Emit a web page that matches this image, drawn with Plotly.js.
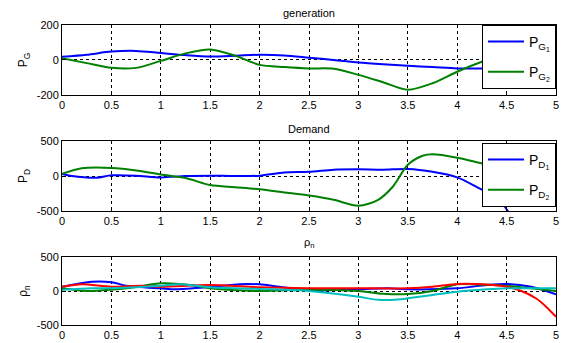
<!DOCTYPE html>
<html><head><meta charset="utf-8">
<script src="https://cdn.plot.ly/plotly-3.0.1.min.js"></script>
<style>html,body{margin:0;padding:0;background:#fff}#chart{width:561px;height:343px}</style>
</head><body><div id="chart"></div>
<script>
// Generation subplot
const tG = [0,0.25,0.5,0.75,1.0,1.25,1.5,1.75,2.0,2.25,2.5,2.75,3.0,3.25,3.5,3.75,4.0,4.25,4.5,4.75,5.0];
const PG1 = [18,30,48,52,40,28,20,24,30,26,13,0,-15,-25,-33,-40,-48,-48,-40,-30,-20];
const PG2 = [10,-18,-45,-45,-5,38,60,25,-28,-40,-48,-50,-85,-127,-170,-133,-67,-10,30,50,60];
// Demand subplot
const tD1 = [0,0.1,0.35,0.5,0.75,1.0,1.25,1.5,1.75,2.0,2.25,2.5,2.75,3.0,3.25,3.5,3.75,4.0,4.2,4.43,4.52,4.6];
const PD1 = [30,0,-25,10,5,-20,0,5,0,5,50,60,90,95,90,100,60,-20,-160,-343,-520,-700];
const tD2 = [0,0.2,0.5,0.75,1.0,1.25,1.5,1.75,2.0,2.25,2.5,2.75,3.0,3.2,3.35,3.5,3.65,3.75,4.0,4.25,4.5,4.75,5.0];
const PD2 = [30,110,115,80,20,-30,-130,-160,-190,-235,-280,-340,-425,-340,-150,160,290,310,262,180,100,50,0];
// rho_n subplot
const tR1 = [0,0.3,0.5,0.65,1.0,1.15,1.5,1.8,2.0,2.2,2.5,3.0,3.3,3.5,4.0,4.3,4.5,4.75,5.0];
const R1 = [63,137,130,78,39,25,59,100,98,63,10,25,40,25,40,88,103,63,-48];
const tR2 = [0,0.25,0.5,0.75,1.0,1.3,1.5,2.0,2.5,3.0,3.25,3.5,3.75,4.0,4.3,4.5,4.75,5.0];
const R2 = [40,0,20,60,113,88,40,0,20,0,-40,-44,0,98,90,75,40,0];
const tR3 = [0,0.2,0.5,0.8,1.0,1.5,2.0,2.5,3.0,3.5,3.75,4.0,4.3,4.5,4.65,4.8,4.9,5.0];
const R3 = [63,98,63,78,63,88,54,40,40,40,63,103,95,63,0,-110,-230,-380];
const tR4 = [0,0.3,0.5,1.0,1.2,1.5,2.0,2.5,3.0,3.2,3.4,3.5,3.75,4.0,4.3,4.5,5.0];
const R4 = [15,40,40,78,98,54,30,0,-84,-130,-125,-108,-59,-10,25,40,40];

const xTicks = [0,0.5,1,1.5,2,2.5,3,3.5,4,4.5,5];
const xTickText = ['0','0.5','1','1.5','2','2.5','3','3.5','4','4.5','5'];

const BLUE='#0000ff', GREEN='#008000', RED='#ff0000', CYAN='#00bfbf';
function tr(x,y,c,name,xa,ya,leg,show,grp){
  return {x:x,y:y,type:'scatter',mode:'lines',line:{color:c,width:2,shape:'spline',smoothing:0.8},
    name:name,xaxis:xa,yaxis:ya,legend:leg,showlegend:show,legendgroup:grp};
}
const data = [
  tr(tG,PG1,BLUE,'P<sub>G<sub>1</sub></sub>','x','y','legend',true,'g1'),
  tr(tG,PG2,GREEN,'P<sub>G<sub>2</sub></sub>','x','y','legend',true,'g2'),
  tr(tD1,PD1,BLUE,'P<sub>D<sub>1</sub></sub>','x2','y2','legend2',true,'d1'),
  tr(tD2,PD2,GREEN,'P<sub>D<sub>2</sub></sub>','x2','y2','legend2',true,'d2'),
  tr(tR1,R1,BLUE,'1','x3','y3','legend',false,'r1'),
  tr(tR2,R2,GREEN,'2','x3','y3','legend',false,'r2'),
  tr(tR3,R3,RED,'3','x3','y3','legend',false,'r3'),
  tr(tR4,R4,CYAN,'4','x3','y3','legend',false,'r4')
];
const F = {family:'Liberation Sans, Arial, sans-serif', size:11, color:'#000'};
function xax(anchor){
  return {anchor:anchor, domain:[0,1], range:[0,5], tickvals:xTicks, ticktext:xTickText,
    showgrid:true, gridcolor:'#000', griddash:'dot', gridwidth:1, zeroline:false,
    showline:true, mirror:true, linecolor:'#000', linewidth:1, ticks:'inside', ticklen:4, tickcolor:'#000',
    tickfont:F};
}
function yax(anchor, dom, r, tv, title){
  return {anchor:anchor, domain:dom, range:r, tickvals:tv, ticktext:tv.map(String),
    showgrid:true, gridcolor:'#000', griddash:'dot', gridwidth:1, zeroline:false,
    showline:true, mirror:true, linecolor:'#000', linewidth:1, ticks:'inside', ticklen:4, tickcolor:'#000',
    tickfont:F, title:{text:title, font:{family:F.family,size:12,color:'#000'}, standoff:6}};
}
const legStyle = {bgcolor:'#fff',bordercolor:'#000',borderwidth:1,itemwidth:36,
    font:{family:F.family,size:14,color:'#000'},tracegroupgap:9};
const layout = {
  width:561, height:343, margin:{l:62,r:5,t:25,b:18},
  paper_bgcolor:'#fff', plot_bgcolor:'#fff', font:F,
  xaxis:xax('y'), yaxis:yax('x',[0.7667,1],[-200,200],[-200,0,200],'P<sub>G</sub>'),
  xaxis2:xax('y2'), yaxis2:yax('x2',[0.38,0.6133],[-500,500],[-500,0,500],'P<sub>D</sub>'),
  xaxis3:xax('y3'), yaxis3:yax('x3',[0,0.2267],[-500,500],[-500,0,500],'ρ<sub>n</sub>'),
  legend:Object.assign({x:1,xanchor:'right',y:1,yanchor:'top'},legStyle),
  legend2:Object.assign({x:1,xanchor:'right',y:0.6067,yanchor:'top'},legStyle),
  annotations:[
    {text:'generation',x:0.5,xref:'paper',y:1.015,yref:'paper',yanchor:'bottom',showarrow:false,font:F},
    {text:'Demand',x:0.5,xref:'paper',y:0.628,yref:'paper',yanchor:'bottom',showarrow:false,font:F},
    {text:'ρ<sub>n</sub>',x:0.5,xref:'paper',y:0.243,yref:'paper',yanchor:'bottom',showarrow:false,font:F}
  ]
};
Plotly.newPlot('chart',data,layout,{displayModeBar:false,staticPlot:true});
</script></body></html>
